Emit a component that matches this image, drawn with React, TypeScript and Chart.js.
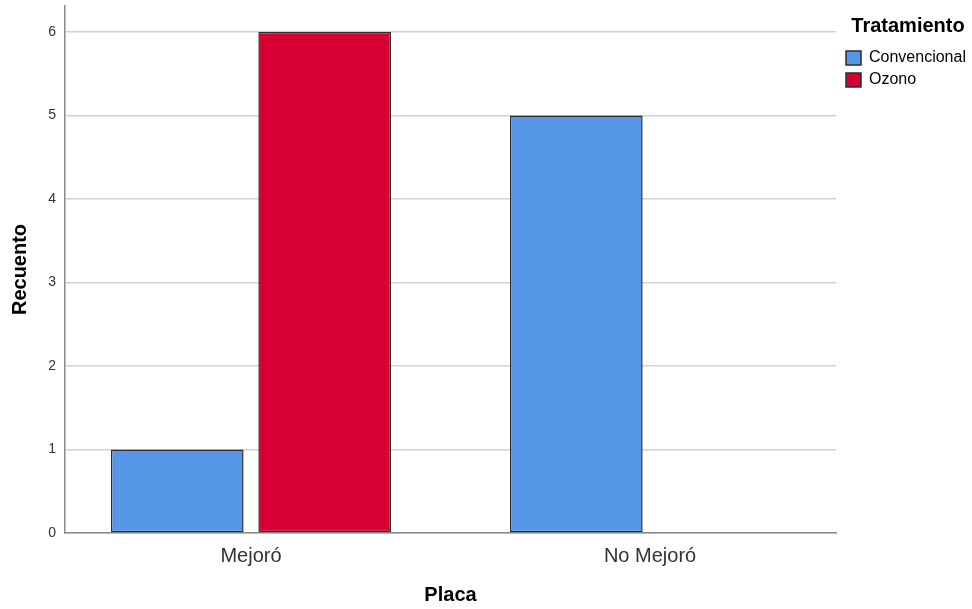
import React, { useEffect, useRef } from 'react';
import { Chart, registerables } from 'chart.js';

Chart.register(...registerables);

const categories = ['Mejoró', 'No Mejoró'];
const seriesNames = ['Convencional', 'Ozono'];
const convencional = [1, 5];
const ozono = [6, 0];
const yTickValues = [0, 1, 2, 3, 4, 5, 6];

const FONT = "'Liberation Sans', Arial, sans-serif";

export default function App() {
  const ref = useRef<HTMLCanvasElement>(null);

  useEffect(() => {
    document.body.style.margin = '0';
    const canvas = ref.current;
    if (!canvas) return;

    const toPoints = (vals: number[]) => vals.map((v, i) => ({ x: i, y: v }));

    const legendPlugin = {
      id: 'legendTweak',
      beforeLayout(chart: any) {
        const lg = chart.legend;
        if (lg && !lg.__patched) {
          const orig = lg.fit.bind(lg);
          lg.fit = function () {
            orig();
            this.width = 136;
          };
          lg.__patched = true;
        }
      },
      afterLayout(chart: any) {
        const lg = chart.legend;
        if (lg) lg.left = lg.left + 4;
      },
    };

    const chart = new Chart(canvas, {
      type: 'bar',
      data: {
        datasets: [
          {
            label: seriesNames[0],
            data: toPoints(convencional),
            backgroundColor: '#5596e6',
            borderColor: '#2e2e2e',
            borderWidth: 1.5,
            borderSkipped: false,
          },
          {
            label: seriesNames[1],
            data: toPoints(ozono),
            backgroundColor: '#d70032',
            borderColor: '#2e2e2e',
            borderWidth: 1.5,
            borderSkipped: false,
          },
        ],
      },
      plugins: [legendPlugin],
      options: {
        animation: false,
        responsive: false,
        maintainAspectRatio: false,
        categoryPercentage: 0.739,
        barPercentage: 0.9,
        layout: { padding: { top: 6, left: 0, right: 0, bottom: 0 } },
        plugins: {
          tooltip: { enabled: false },
          legend: {
            position: 'right',
            align: 'start',
            title: {
              display: true,
              text: 'Tratamiento',
              position: 'center',
              color: '#000',
              font: { family: FONT, size: 20, weight: 'bold' },
              padding: { top: 10, bottom: 4 },
            },
            labels: {
              boxWidth: 15,
              boxHeight: 14,
              padding: 6,
              color: '#222',
              font: { family: FONT, size: 16 },
              generateLabels: (chart: any) =>
                chart.data.datasets.map((ds: any, i: number) => ({
                  text: ds.label,
                  fillStyle: ds.backgroundColor,
                  strokeStyle: '#2e2e2e',
                  lineWidth: 1.5,
                  datasetIndex: i,
                  hidden: false,
                })),
            },
          },
        },
        scales: {
          x: {
            type: 'linear',
            min: -0.466,
            max: 1.466,
            offset: false,
            grid: { display: false, offset: false },
            border: { display: true, color: '#8a8a8a', width: 1.5 },
            ticks: {
              stepSize: 1,
              includeBounds: false,
              padding: 3,
              color: '#333',
              font: { family: FONT, size: 20 },
              callback: (v: any) => {
                const i = Number(v);
                return Number.isInteger(i) && categories[i] !== undefined ? categories[i] : '';
              },
            },
            afterBuildTicks: (scale: any) => {
              scale.ticks = categories.map((_, i) => ({ value: i }));
            },
            afterFit: (scale: any) => {
              scale.height = 76;
              scale.paddingLeft = 0;
              scale.paddingRight = 0;
            },
            title: {
              display: true,
              text: 'Placa',
              color: '#000',
              font: { family: FONT, size: 20, weight: 'bold' },
              padding: { top: 0, bottom: 2 },
            },
          },
          y: {
            type: 'linear',
            min: 0,
            max: 6.31,
            grid: { color: '#d2d2d2', lineWidth: 1.5, drawTicks: false },
            border: { display: true, color: '#8a8a8a', width: 1.5 },
            ticks: {
              stepSize: 1,
              includeBounds: false,
              padding: 9,
              color: '#333',
              font: { family: FONT, size: 14 },
            },
            afterBuildTicks: (scale: any) => {
              scale.ticks = yTickValues.map((v) => ({ value: v }));
            },
            afterFit: (scale: any) => {
              scale.width = 65;
              scale.paddingTop = 0;
              scale.paddingBottom = 0;
            },
            title: {
              display: true,
              text: 'Recuento',
              color: '#000',
              font: { family: FONT, size: 20, weight: 'bold' },
              padding: { top: 8, bottom: 0 },
            },
          },
        },
      } as any,
    });

    return () => chart.destroy();
  }, []);

  return (
    <div style={{ width: 972, height: 609, background: '#fff' }}>
      <canvas ref={ref} width={972} height={609} style={{ display: 'block' }} />
    </div>
  );
}
